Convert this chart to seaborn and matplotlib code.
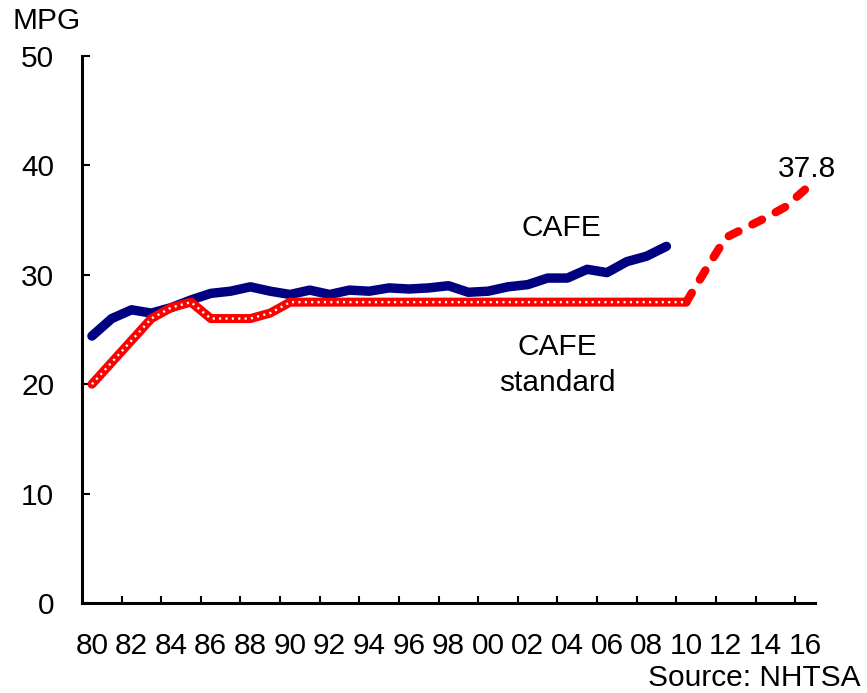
import matplotlib
matplotlib.use("Agg")
import matplotlib.pyplot as plt
import numpy as np
import pandas as pd
import seaborn as sns

# Fleet fuel economy (MPG), model years 1980-2016
cafe_years = list(range(1980, 2010))
cafe_actual = [24.4, 26.0, 26.8, 26.5, 27.0, 27.7, 28.3, 28.5, 28.9, 28.5,
               28.2, 28.6, 28.2, 28.6, 28.5, 28.8, 28.7, 28.8, 29.0, 28.4,
               28.5, 28.9, 29.1, 29.7, 29.7, 30.5, 30.2, 31.2, 31.7, 32.6]

std_years = list(range(1980, 2011))
cafe_standard = [20.0, 22.0, 24.0, 26.0, 27.0, 27.5, 26.0, 26.0, 26.0, 26.5,
                 27.5, 27.5, 27.5, 27.5, 27.5, 27.5, 27.5, 27.5, 27.5, 27.5,
                 27.5, 27.5, 27.5, 27.5, 27.5, 27.5, 27.5, 27.5, 27.5, 27.5,
                 27.5]

proj_years = list(range(2010, 2017))
cafe_projected = [27.5, 30.5, 33.4, 34.3, 35.2, 36.2, 37.8]

tick_years = list(range(1980, 2017, 2))
tick_labels = [f"{y % 100:02d}" for y in tick_years]
y_ticks = [0, 10, 20, 30, 40, 50]

NAVY = "#000080"
RED = "#FF0000"
FS = 21.5

sns.set_style("white")
plt.rcParams["font.family"] = ["Liberation Sans", "DejaVu Sans"]
plt.rcParams["text.color"] = "black"
plt.rcParams["xtick.color"] = "black"
plt.rcParams["ytick.color"] = "black"

df_actual = pd.DataFrame({"year": cafe_years, "mpg": cafe_actual})
df_std = pd.DataFrame({"year": std_years, "mpg": cafe_standard})
df_proj = pd.DataFrame({"year": proj_years, "mpg": cafe_projected})

fig = plt.figure(figsize=(8.67, 6.93), dpi=100)
ax = fig.add_axes([0.0946, 0.1299, 0.8454, 0.7893])

# actual fleet CAFE
sns.lineplot(data=df_actual, x="year", y="mpg", ax=ax, color=NAVY,
             linewidth=6.8, solid_capstyle="round", solid_joinstyle="round",
             zorder=3)

# CAFE standard: thick red line with a white dotted pattern inside
sns.lineplot(data=df_std, x="year", y="mpg", ax=ax, color=RED,
             linewidth=6.5, solid_capstyle="round", solid_joinstyle="round",
             zorder=4)
ax.plot(df_std["year"], df_std["mpg"], color="white", linewidth=1.7,
        linestyle=(0, (0.9, 1.8)), zorder=5)

# projected standard
sns.lineplot(data=df_proj, x="year", y="mpg", ax=ax, color=RED,
             linewidth=6.0, zorder=4)
ax.lines[-1].set_linestyle((0, (1.3, 1.86)))
ax.lines[-1].set_dash_capstyle("round")

ax.set_xlim(1979.5, 2016.5)
ax.set_ylim(0, 50)

ax.set_xticks(tick_years)
ax.set_xticklabels(tick_labels)
ax.set_xticks(np.arange(1981.5, 2016, 2), minor=True)
ax.tick_params(axis="x", which="major", length=0, pad=21, labelsize=FS)
ax.tick_params(axis="x", which="minor", direction="in", length=5,
               width=1.5, color="black", bottom=True)

ax.set_yticks(y_ticks)
ax.tick_params(axis="y", which="major", direction="in", length=6,
               width=1.5, color="black", left=True, pad=20, labelsize=FS)

for side in ("top", "right"):
    ax.spines[side].set_visible(False)
for side in ("left", "bottom"):
    ax.spines[side].set_color("black")
    ax.spines[side].set_linewidth(2.2)

ax.set_xlabel("")
ax.set_ylabel("")
ax.grid(False)

ax.text(2003.7, 34.3, "CAFE", fontsize=FS, ha="center", va="center")
ax.text(2003.5, 23.4, "CAFE", fontsize=FS, ha="center", va="center")
ax.text(2003.5, 20.1, "standard", fontsize=FS, ha="center", va="center")
ax.annotate(f"{cafe_projected[-1]:.1f}", xy=(proj_years[-1], cafe_projected[-1]),
            xytext=(1, 14.5), textcoords="offset points",
            fontsize=FS, ha="center", va="center")

fig.text(47 / 867, 1 - 21 / 693, "MPG", fontsize=FS, ha="center", va="center")
fig.text(860 / 867, 1 - 686 / 693, "Source: NHTSA", fontsize=FS,
         ha="right", va="baseline")

fig.savefig("out.png", dpi=100)
